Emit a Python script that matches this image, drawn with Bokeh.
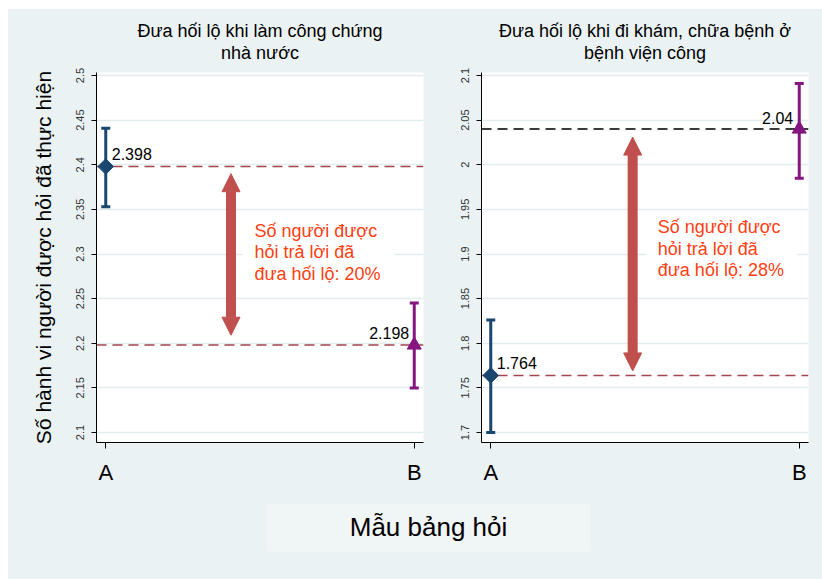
from bokeh.plotting import figure
from bokeh.models import (Range1d, FixedTicker, Span, Whisker, ColumnDataSource,
                          TeeHead, Label, Arrow, NormalHead)
from bokeh.layouts import row, column
from bokeh.embed import file_html
from bokeh.resources import INLINE
import math

# ---------------- data ----------------
categories = ["A", "B"]
x_pos = [0, 1]

left_title = ["Đưa hối lộ khi làm công chứng", "nhà nước"]
right_title = ["Đưa hối lộ khi đi khám, chữa bệnh ở", "bệnh viện công"]

left_mean = [2.398, 2.198]
left_lower = [2.353, 2.150]
left_upper = [2.441, 2.245]

right_mean = [1.764, 2.04]
right_lower = [1.700, 1.985]
right_upper = [1.826, 2.091]

left_ticks = [2.1, 2.15, 2.2, 2.25, 2.3, 2.35, 2.4, 2.45, 2.5]
left_tick_labels = ["2.1", "2.15", "2.2", "2.25", "2.3", "2.35", "2.4", "2.45", "2.5"]
right_ticks = [1.7, 1.75, 1.8, 1.85, 1.9, 1.95, 2.0, 2.05, 2.1]
right_tick_labels = ["1.7", "1.75", "1.8", "1.85", "1.9", "1.95", "2", "2.05", "2.1"]

left_note = "Số người được\nhỏi trả lời đã\nđưa hối lộ: 20%"
right_note = "Số người được\nhỏi trả lời đã\nđưa hối lộ: 28%"

y_title = "Số hành vi người được hỏi đã thực hiện"
x_title = "Mẫu bảng hỏi"

# arrow positions (annotation)
left_arrow = dict(x=0.406, top=2.390, bottom=2.209)
right_arrow = dict(x=0.46, top=2.031, bottom=1.769)

# ---------------- style ----------------
FONT = "Liberation Sans"
BG = "#EAF2F3"
GRID = "#E2ECEF"
MARKER_COLORS = ["#1A476F", "#85157F"]
MARKERS = ["square", "triangle"]
MARKER_ANGLE = [math.pi / 4, 0]
MARKER_SIZE = [11, 14]
REF_RED = "#A3444F"
REF_GRAY = "#3C3C3C"
ARROW_COLOR = "#C0504D"
NOTE_COLOR = "#FF4013"

TITLE_H = 56
PANEL_H = 430
X_RANGE = (-0.03, 1.03)


def make_title(width, mbl, mbr, lines):
    t = figure(width=width, height=TITLE_H, x_range=Range1d(*X_RANGE),
               y_range=Range1d(0, TITLE_H), x_axis_type=None, y_axis_type=None,
               min_border_left=mbl, min_border_right=mbr, min_border_top=0,
               min_border_bottom=0, toolbar_location=None, output_backend="svg",
               title=None)
    t.background_fill_color = BG
    t.border_fill_color = BG
    t.outline_line_color = None
    t.grid.visible = False
    for line, yy in zip(lines, [35, 13]):
        t.add_layout(Label(x=0.5, y=yy, text=line, text_align="center",
                           text_baseline="middle", text_font=FONT,
                           text_font_size="18px", text_color="black"))
    return t


def make_panel(width, mbl, mbr, yr, ticks, tick_labels, means, lowers, uppers,
               ref_colors, ref_widths, arrow, note, note_xy,
               label_offsets, show_ylabel):
    p = figure(width=width, height=PANEL_H, x_range=Range1d(*X_RANGE),
               y_range=Range1d(*yr), min_border_left=mbl, min_border_right=mbr,
               min_border_top=7, min_border_bottom=53, toolbar_location=None,
               output_backend="svg", title=None)
    p.background_fill_color = "white"
    p.border_fill_color = BG
    p.outline_line_color = None

    # axes
    p.xaxis.ticker = FixedTicker(ticks=x_pos)
    p.xaxis.major_label_overrides = {x: c for x, c in zip(x_pos, categories)}
    p.xaxis.major_label_text_font = FONT
    p.xaxis.major_label_text_font_size = "22px"
    p.xaxis.major_label_text_color = "black"
    p.xaxis.major_tick_out = 6
    p.xaxis.major_tick_in = 0
    p.xaxis.minor_tick_out = 0
    p.xaxis.minor_tick_in = 0
    p.xaxis.major_label_standoff = 11
    p.xaxis.axis_line_color = "black"

    p.yaxis.ticker = FixedTicker(ticks=ticks)
    p.yaxis.major_label_overrides = {t: l for t, l in zip(ticks, tick_labels)}
    p.yaxis.major_label_orientation = "vertical"
    p.yaxis.major_label_text_font = FONT
    p.yaxis.major_label_text_font_size = "11px"
    p.yaxis.major_label_text_color = "#333333"
    p.yaxis.major_tick_out = 5
    p.yaxis.major_tick_in = 0
    p.yaxis.minor_tick_out = 0
    p.yaxis.minor_tick_in = 0
    p.yaxis.major_label_standoff = 7
    p.yaxis.axis_line_color = "black"
    if show_ylabel:
        p.yaxis.axis_label = y_title
        p.yaxis.axis_label_text_font = FONT
        p.yaxis.axis_label_text_font_size = "21px"
        p.yaxis.axis_label_text_font_style = "normal"
        p.yaxis.axis_label_text_color = "black"
        p.yaxis.axis_label_standoff = 19

    p.xgrid.visible = False
    p.ygrid.grid_line_color = GRID
    p.ygrid.grid_line_width = 1.5

    # dashed reference lines at the means
    for m, c, w in zip(means, ref_colors, ref_widths):
        p.add_layout(Span(location=m, dimension="width", line_color=c,
                          line_dash="10 6", line_width=w, level="underlay"))

    # confidence intervals + markers
    for i in range(len(x_pos)):
        src = ColumnDataSource(dict(x=[x_pos[i]], m=[means[i]],
                                    lo=[lowers[i]], hi=[uppers[i]]))
        col = MARKER_COLORS[i]
        p.add_layout(Whisker(source=src, base="x", upper="hi", lower="lo",
                             dimension="height", line_color=col, line_width=3,
                             upper_head=TeeHead(size=9, line_color=col, line_width=3),
                             lower_head=TeeHead(size=9, line_color=col, line_width=3),
                             level="underlay"))
        p.scatter("x", "m", source=src, marker=MARKERS[i], size=MARKER_SIZE[i],
                  angle=MARKER_ANGLE[i], fill_color=col, line_color=col)
        dx, dy, align = label_offsets[i]
        p.add_layout(Label(x=x_pos[i], y=means[i], text=f"{means[i]:g}",
                           x_offset=dx, y_offset=dy, text_align=align,
                           text_baseline="middle", text_font=FONT,
                           text_font_size="16px", text_color="black"))

    # double arrow
    p.add_layout(Arrow(x_start=arrow["x"], y_start=arrow["bottom"],
                       x_end=arrow["x"], y_end=arrow["top"],
                       start=NormalHead(size=18, fill_color=ARROW_COLOR,
                                        line_color=ARROW_COLOR, line_width=1),
                       end=NormalHead(size=18, fill_color=ARROW_COLOR,
                                      line_color=ARROW_COLOR, line_width=1),
                       line_color=ARROW_COLOR, line_width=10))

    # note with white background
    p.add_layout(Label(x=note_xy[0], y=note_xy[1], text=note, anchor="top_left",
                       text_font=FONT, text_font_size="18px", text_color=NOTE_COLOR,
                       text_line_height=1.08, background_fill_color="white",
                       padding=dict(left=12, right=14, top=6, bottom=6)))
    return p


tl = make_title(442, 88, 27, left_title)
fl = make_panel(442, 88, 27, (2.0888, 2.5034), left_ticks, left_tick_labels,
                left_mean, left_lower, left_upper,
                [REF_RED, REF_RED], [1.5, 1.5], left_arrow, left_note,
                (0.443, 2.344), [(6, 13, "left"), (-5, 12, "right")], True)
tr = make_title(372, 31, 14, right_title)
fr = make_panel(372, 31, 14, (1.6888, 2.1034), right_ticks, right_tick_labels,
                right_mean, right_lower, right_upper,
                [REF_RED, REF_GRAY], [1.5, 2], right_arrow, right_note,
                (0.5026, 1.948), [(6, 12, "left"), (-6, 11, "right")], False)

fb = figure(width=814, height=84, x_range=Range1d(0, 1), y_range=Range1d(0, 1),
            x_axis_type=None, y_axis_type=None, min_border=0,
            toolbar_location=None, output_backend="svg", title=None)
fb.background_fill_color = BG
fb.border_fill_color = BG
fb.outline_line_color = None
fb.grid.visible = False
fb.add_layout(Label(x=0.516, y=0.62, text=x_title, text_align="center",
                    text_baseline="middle", text_font=FONT, text_font_size="26px",
                    text_color="black", background_fill_color="#F0F5F6",
                    padding=dict(left=83, right=83, top=9, bottom=9)))

sty = {"background-color": BG}
left_col = column(tl, fl, spacing=0, styles=sty)
right_col = column(tr, fr, spacing=0, styles=sty)
top_row = row(left_col, right_col, spacing=0, styles=sty)
layout = column(top_row, fb, spacing=0, styles=sty)
layout.margin = (9, 0, 0, 8)

open("out.html", "w").write(file_html(layout, INLINE))
